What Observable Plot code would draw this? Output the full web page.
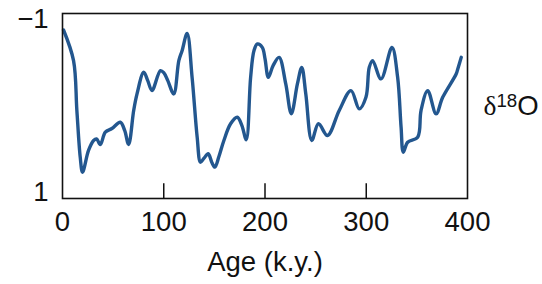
<!DOCTYPE html>
<html>
<head>
<meta charset="utf-8">
<script src="https://cdn.jsdelivr.net/npm/d3@7"></script>
<script src="https://cdn.jsdelivr.net/npm/@observablehq/plot@0.6"></script>
<style>
  html, body { margin: 0; padding: 0; background: #fff; }
</style>
</head>
<body>
<div id="chart"></div>
<script>
// Age in thousands of years (k.y.)
const ages = [1.0, 10.9, 14.2, 17.5, 19.8, 25.7, 30.7, 33.7, 37.3, 42.3, 48.8, 57.1, 61.4, 65.3, 70.3, 73.6, 80.2, 84.2, 88.4, 96.7,
  100.0, 104.0, 109.9, 114.9, 118.1, 123.1, 128.0, 133.0, 136.3, 139.6, 143.9, 147.5, 150.5, 154.5, 159.4, 166.0, 172.6, 177.2, 181.5, 185.8,
  189.1, 192.4, 197.3, 200.0, 203.3, 208.0, 213.9, 220.5, 226.0, 232.0, 236.3, 240.3, 246.2, 252.8, 261.7, 273.3, 284.9, 293.1, 299.7, 303.0,
  306.3, 314.6, 325.4, 331.0, 334.4, 336.6, 340.9, 350.8, 354.1, 360.7, 369.0, 375.5, 388.8, 390.4, 393.8];
// δ18O anomaly values
const d18O = [-0.870, -0.517, 0.057, 0.594, 0.767, 0.517, 0.402, 0.385, 0.450, 0.307, 0.264, 0.192, 0.287, 0.448, 0.057, -0.134, -0.383, -0.287, -0.172, -0.402,
  -0.379, -0.287, -0.134, -0.517, -0.632, -0.831, -0.325, 0.364, 0.652, 0.609, 0.555, 0.655, 0.709, 0.586, 0.402, 0.210, 0.134, 0.230, 0.394, -0.325,
  -0.632, -0.709, -0.670, -0.540, -0.325, -0.460, -0.555, -0.249, 0.095, -0.249, -0.440, -0.134, 0.402, 0.210, 0.345, 0.057, -0.172, 0.038, -0.095, -0.440,
  -0.517, -0.307, -0.670, -0.325, 0.249, 0.537, 0.422, 0.364, 0.057, -0.172, 0.095, -0.095, -0.364, -0.422, -0.555];
const xTickValues = [0, 100, 200, 300, 400];
const innerTicks = [100, 200, 300];
const yTickValues = [-1, 1];
const xLabel = "Age (k.y.)";
const yLabel = "δ18O";

const data = ages.map((a, i) => ({age: a, v: d18O[i]}));
const yDomain = [-1.06, 1.07];

const chart = Plot.plot({
  width: 542,
  height: 284,
  marginLeft: 62,
  marginRight: 75,
  marginTop: 13,
  marginBottom: 86,
  style: {fontFamily: "'Liberation Sans', Arial, sans-serif", fontSize: "27.5px", color: "#111", background: "#fff"},
  x: {domain: [0, 400]},
  y: {domain: yDomain, reverse: true},
  marks: [
    Plot.ruleX(innerTicks, {y1: yDomain[1], y2: yDomain[1] - 0.17, stroke: "#111", strokeWidth: 1.5}),
    Plot.line(data, {x: "age", y: "v", curve: "catmull-rom", stroke: "#23578f", strokeWidth: 3.4}),
    Plot.frame({stroke: "#111", strokeWidth: 1.6}),
    Plot.axisX(xTickValues, {tickSize: 0, tickPadding: 13, label: null}),
    Plot.axisY(yTickValues, {tickSize: 0, tickPadding: 14, label: null, tickFormat: d => d < 0 ? "\u2212" + Math.abs(d) : String(d)}),
    Plot.text([xLabel], {frameAnchor: "bottom", dy: 72, fill: "#111"}),
    Plot.text([yLabel], {frameAnchor: "right", dx: 16, textAnchor: "start", fill: "#111", className: "ylab"})
  ]
});
document.getElementById("chart").appendChild(chart);

// render superscript in the δ18O label
d3.select(chart).selectAll("g.ylab text").each(function() {
  const t = d3.select(this);
  t.text(null);
  t.append("tspan").text("δ").attr("font-family", "'Liberation Serif', 'DejaVu Serif', serif");
  t.append("tspan").text("18").attr("font-size", "0.68em").attr("dy", "-0.42em");
  t.append("tspan").text("O").attr("dy", "0.29em");
});
</script>
</body>
</html>
